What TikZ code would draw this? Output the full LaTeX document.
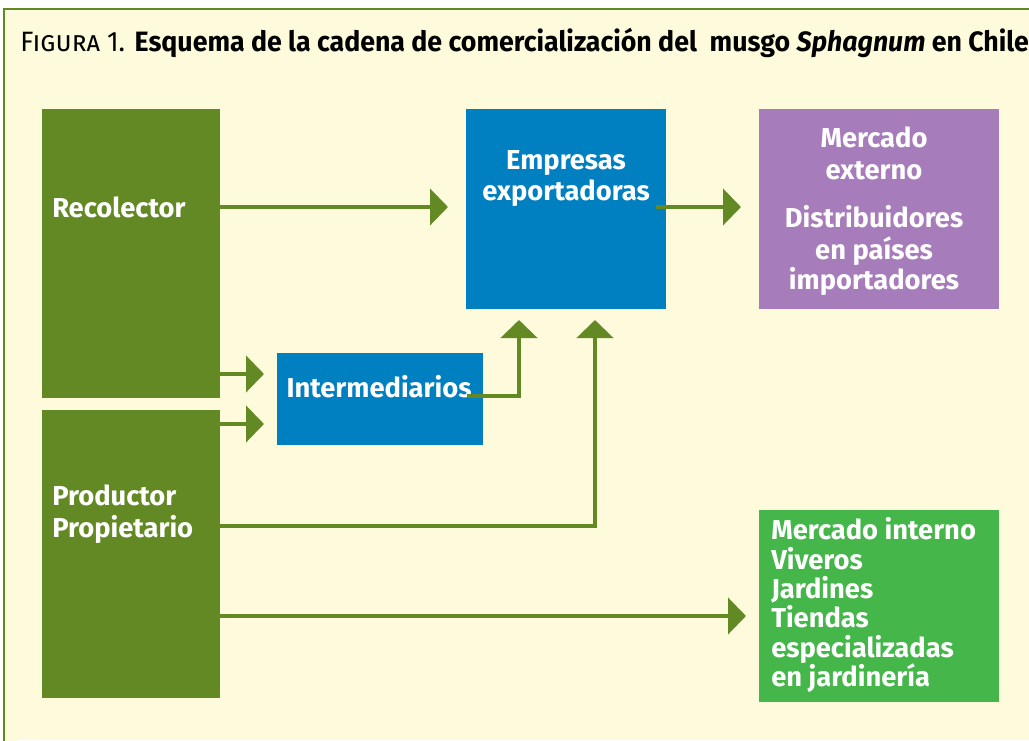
\documentclass[tikz,border=0pt]{standalone}
\usepackage{fontspec}
\setmainfont{Fira Sans}
\usetikzlibrary{arrows.meta}
\definecolor{olive}{RGB}{99,137,37}
\definecolor{cblue}{RGB}{0,127,193}
\definecolor{cpurple}{RGB}{167,124,186}
\definecolor{cgreen}{RGB}{69,182,74}
\definecolor{cream}{RGB}{254,250,220}
\tikzset{
  box/.style={anchor=north west, inner sep=0pt, outer sep=0pt, draw=none},
  lbl/.style={text=white, font=\bfseries\fontsize{20.5}{24}\selectfont, inner sep=0pt},
  arr/.style={draw=olive, line width=3.6pt, -{Triangle[width=27pt,length=13.5pt]}},
}
\begin{document}
\begin{tikzpicture}[x=0.75pt,y=-0.75pt]
\useasboundingbox (0,0) rectangle (1029,740);
\fill[white] (0,0) rectangle (1029,740);
\draw[draw=olive, fill=cream, line width=0.8pt] (1040,9) -- (4,9) -- (4,750);
\fill[cream] (4.5,9.5) rectangle (1029,740);
\node[anchor=base west, inner sep=0pt, font=\fontsize{21}{24}\selectfont] (title) at (20,51)
  {\scalebox{0.955}[1]{\textsc{Figura} 1. \textbf{Esquema de la cadena de comercialización del\ \ musgo \textit{Sphagnum} en Chile}}};
% boxes
\node[box, fill=olive, minimum width=133.5pt, minimum height=216.75pt] (rec) at (42,109) {};
\node[box, fill=olive, minimum width=133.5pt, minimum height=216pt] (prod) at (42,410) {};
\node[box, fill=cblue, minimum width=150pt, minimum height=150pt] (emp) at (466,109) {};
\node[box, fill=cpurple, minimum width=180pt, minimum height=150pt] (ext) at (759,109) {};
\node[box, fill=cblue, minimum width=154.5pt, minimum height=69pt] (inter) at (277,353) {};
\node[box, fill=cgreen, minimum width=180pt, minimum height=144pt] (int) at (759,510) {};
% labels
\node[lbl, anchor=base west] (trec) at (52,217) {Recolector};
\node[lbl, anchor=base west] (tprod1) at (52,505) {Productor};
\node[lbl, anchor=base west] (tprod2) at (52,537) {Propietario};
\node[lbl, anchor=base] (temp1) at (566,169) {Empresas};
\node[lbl, anchor=base] (temp2) at (566,200) {exportadoras};
\node[lbl, anchor=base] (tinter) at (379,397) {Intermediarios};
\node[lbl, anchor=base] (text1) at (874,147) {Mercado};
\node[lbl, anchor=base] (text2) at (874,179) {externo};
\node[lbl, anchor=base] (text3) at (874,227) {Distribuidores};
\node[lbl, anchor=base] (text4) at (874,259) {en países};
\node[lbl, anchor=base] (text5) at (874,289) {importadores};
\node[lbl, anchor=base west] (tint1) at (771,539) {Mercado interno};
\node[lbl, anchor=base west] (tint2) at (771,569) {Viveros};
\node[lbl, anchor=base west] (tint3) at (771,598) {Jardines};
\node[lbl, anchor=base west] (tint4) at (771,627) {Tiendas};
\node[lbl, anchor=base west] (tint5) at (771,657) {especializadas};
\node[lbl, anchor=base west] (tint6) at (771,686) {en jardinería};
% connector anchors
\coordinate (r1) at (220,207);
\coordinate (r2) at (220,374);
\coordinate (p1) at (220,424);
\coordinate (p2) at (220,526);
\coordinate (p3) at (220,616);
\coordinate (e1) at (656,207);
\coordinate (i1) at (467,396);
% arrows
\draw[arr, shorten >=13.5pt] (rec.east |- r1) -- (emp.west |- r1);
\draw[arr, shorten >=13.5pt] (e1) -- (ext.west |- e1);
\draw[arr, shorten >=9.75pt] (rec.east |- r2) -- (inter.west |- r2);
\draw[arr, shorten >=9.75pt] (prod.east |- p1) -- (inter.west |- p1);
\draw[arr, shorten >=8.25pt] (i1) -| ([xshift=39.75pt]emp.south west);
\draw[arr, shorten >=8.25pt] (prod.east |- p2) -| ([xshift=96.75pt]emp.south west);
\draw[arr, shorten >=9.75pt] (prod.east |- p3) -- (int.west |- p3);
\end{tikzpicture}
\end{document}
